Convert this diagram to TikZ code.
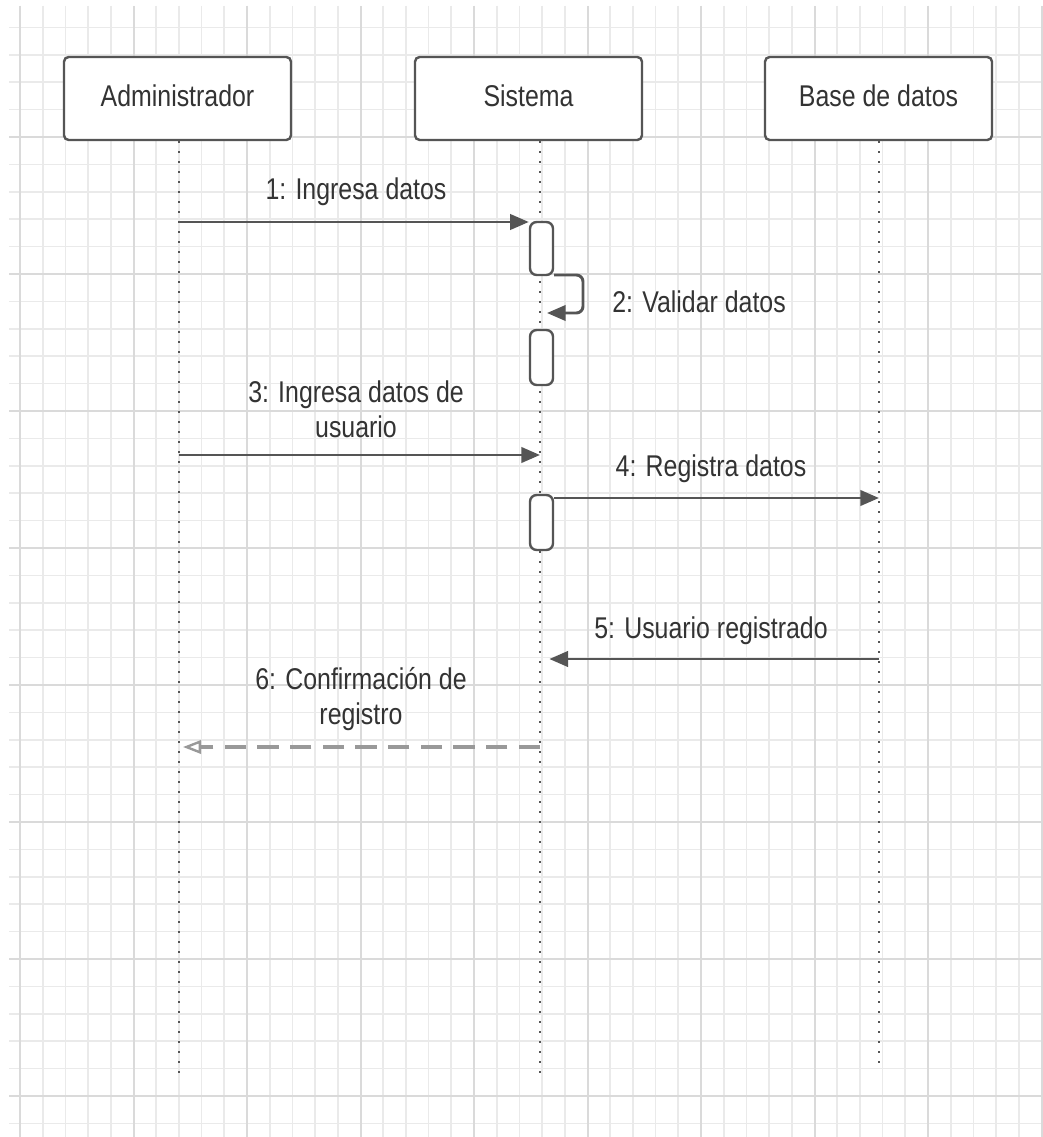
\documentclass[tikz,border=0pt]{standalone}
\usepackage{fontspec}
\setmainfont{Liberation Sans}[FakeStretch=0.83]
\usetikzlibrary{arrows.meta}

\definecolor{gridminor}{HTML}{EAEAEA}
\definecolor{gridmajor}{HTML}{DADADA}
\definecolor{edge}{HTML}{555555}
\definecolor{ink}{HTML}{333333}
\definecolor{ret}{HTML}{999999}

\begin{document}
\begin{tikzpicture}[x=0.75pt,y=-0.75pt,
  actor/.style={draw=edge, line width=1.8pt, fill=white, rounded corners=3.5pt,
    minimum width=170.25pt, minimum height=62.25pt, inner sep=0pt, text=ink,
    font=\fontsize{22.5}{27}\selectfont, text height=16pt, text depth=4pt},
  actbar/.style={draw=edge, line width=1.8pt, fill=white, rounded corners=5pt,
    minimum width=17.25pt, inner sep=0pt},
  lifeline/.style={draw=edge, line width=2pt, dash pattern=on 1.5pt off 6pt},
  msg/.style={draw=edge, line width=2.2pt, -{Triangle[length=14pt,width=11.5pt]}},
  reply/.style={draw=ret, line width=3pt, dash pattern=on 16pt off 8.5pt,
    -{Triangle[open,length=13.5pt,width=10pt,line width=1.8pt]}},
  msglabel/.style={text=ink, font=\fontsize{22.5}{26.25}\selectfont,
    inner sep=0pt, align=center},
]
% canvas
\fill[white] (0,0) rectangle (1042,1137);
\useasboundingbox (0,0) rectangle (1042,1137);

% background grid
\foreach \i in {0,...,45}
  \draw[gridminor, line width=1.3pt] ({20+22.7*\i},6) -- ({20+22.7*\i},1137);
\foreach \j in {1,...,41}
  \draw[gridminor, line width=1.3pt] (9,{27.4*\j}) -- (1042,{27.4*\j});
\foreach \i in {0,5,...,45}
  \draw[gridmajor, line width=1.5pt] ({20+22.7*\i},6) -- ({20+22.7*\i},1137);
\foreach \j in {5,10,...,40}
  \draw[gridmajor, line width=1.5pt] (9,{27.4*\j}) -- (1042,{27.4*\j});

% participants
\node[actor] (admin) at (177.5,98.5) {Administrador};
\node[actor] (sys)   at (528.5,98.5) {Sistema};
\node[actor] (db)    at (878.5,98.5) {Base de datos};

% lifelines
\coordinate (adminEnd) at (179,1080);
\coordinate (sysEnd)   at (540,1080);
\coordinate (dbEnd)    at (879,1066);
\draw[lifeline] (admin.south -| adminEnd) -- (adminEnd);
\draw[lifeline] (sys.south -| sysEnd) -- (sysEnd);
\draw[lifeline] (db.south -| dbEnd) -- (dbEnd);

% activation bars
\node[actbar, minimum height=39.75pt] (act1) at (541.5,248.5) {};
\node[actbar, minimum height=41.25pt] (act2) at (541.5,357.5) {};
\node[actbar, minimum height=41.25pt] (act3) at (541.5,522.5) {};

% message anchors
\coordinate (m1) at (179,222);
\coordinate (m2r) at (583,275);
\coordinate (m2t) at (547,313);
\coordinate (m3) at (179,455);
\coordinate (m4) at (879,498);
\coordinate (m5) at (879,659);
\coordinate (m6) at (540,747);

% messages
\draw[msg] (m1) -- (act1.west |- m1);
\draw[msg, rounded corners=5pt] (act1.east |- m2r) -- (m2r) -- (m2r |- m2t) -- (m2t);
\draw[msg] (m3) -- (sysEnd |- m3);
\draw[msg] (act3.east |- m4) -- (m4);
\draw[msg, shorten >=7pt] (m5) -- (sysEnd |- m5);
\draw[reply, shorten >=3pt] (m6) -- (adminEnd |- m6);

% message labels (base = baseline of the last line)
\node[msglabel, anchor=base] (l1) at (356,200) {1: Ingresa datos};
\node[msglabel, anchor=base] (l2) at (699,312) {2: Validar datos};
\node[msglabel, anchor=base] (l3) at (356,437) {3: Ingresa datos de\\usuario};
\node[msglabel, anchor=base] (l4) at (711,476) {4: Registra datos};
\node[msglabel, anchor=base] (l5) at (711,638) {5: Usuario registrado};
\node[msglabel, anchor=base] (l6) at (361,724) {6: Confirmación de\\registro};
\end{tikzpicture}
\end{document}
